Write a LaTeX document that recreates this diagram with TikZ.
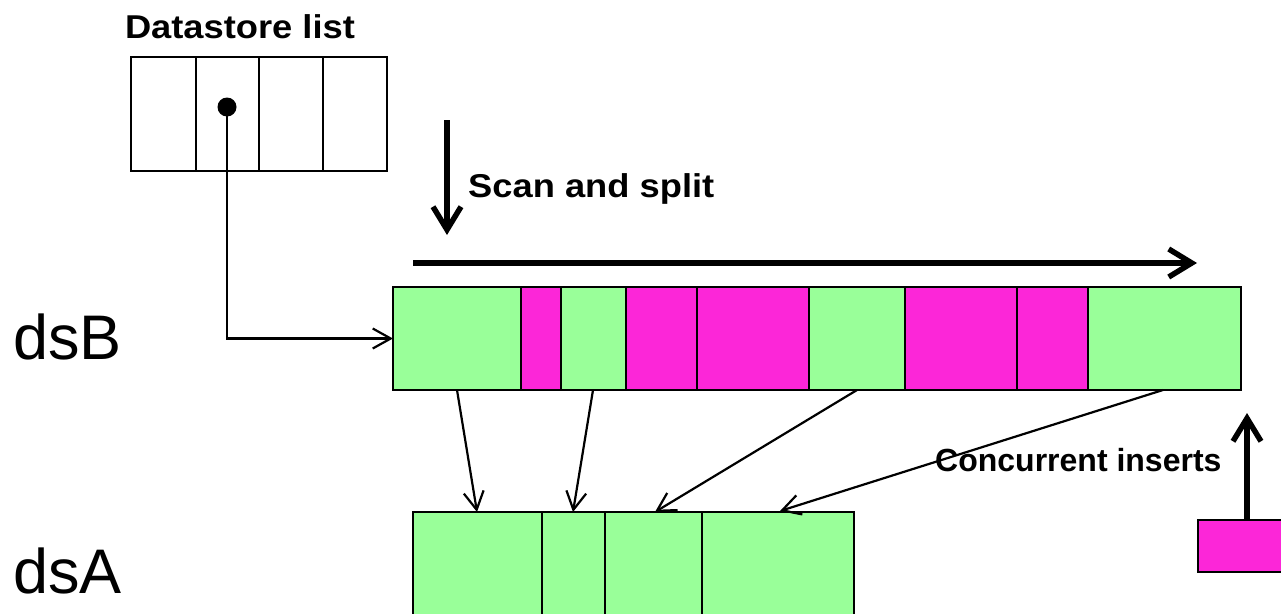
\documentclass[tikz,border=0pt]{standalone}
\usepackage{fontspec}
\setmainfont{Liberation Sans}
\usetikzlibrary{arrows.meta}
\definecolor{cgreen}{RGB}{153,255,153}
\definecolor{cmag}{RGB}{252,38,216}
\tikzset{
  cell/.style={draw=black, line width=2.2pt, inner sep=0pt, outer sep=0pt, anchor=north west},
  gcell/.style={cell, fill=cgreen},
  mcell/.style={cell, fill=cmag},
  wcell/.style={cell, fill=white},
  thinarrow/.style={line width=2.2pt, -{Straight Barb[length=18pt,width=20pt,line width=2.2pt]}},
  thickarrow/.style={line width=5.5pt, -{Straight Barb[length=23pt,width=28pt,line width=5.5pt]}},
  bigtext/.style={font=\fontsize{63}{70}\selectfont, inner sep=0pt, anchor=base west},
  boldtext/.style={font=\bfseries\fontsize{33}{38}\selectfont, inner sep=0pt},
}
\begin{document}
\begin{tikzpicture}[x=1pt,y=-1pt]
\useasboundingbox (0,0) rectangle (1281,613);
\clip (0,0) rectangle (1281,613);
% Datastore list
\node[boldtext, anchor=base] (dltitle) at (240,38) {\scalebox{1.1}[1]{Datastore list}};
\node[wcell, minimum width=65pt, minimum height=114pt] (l1) at (131,57) {};
\node[wcell, minimum width=63pt, minimum height=114pt] (l2) at (196,57) {};
\node[wcell, minimum width=64pt, minimum height=114pt] (l3) at (259,57) {};
\node[wcell, minimum width=64pt, minimum height=114pt] (l4) at (323,57) {};
\node[circle, fill=black, inner sep=0pt, minimum size=19pt] (dot) at (227,107) {};
% dsB
\node[bigtext] (dsB) at (13,359) {dsB};
\node[gcell, minimum width=128pt, minimum height=103pt] (b1) at (393,287) {};
\node[mcell, minimum width=40pt,  minimum height=103pt] (b2) at (521,287) {};
\node[gcell, minimum width=65pt,  minimum height=103pt] (b3) at (561,287) {};
\node[mcell, minimum width=71pt,  minimum height=103pt] (b4) at (626,287) {};
\node[mcell, minimum width=112pt, minimum height=103pt] (b5) at (697,287) {};
\node[gcell, minimum width=96pt,  minimum height=103pt] (b6) at (809,287) {};
\node[mcell, minimum width=112pt, minimum height=103pt] (b7) at (905,287) {};
\node[mcell, minimum width=71pt,  minimum height=103pt] (b8) at (1017,287) {};
\node[gcell, minimum width=153pt, minimum height=103pt] (b9) at (1088,287) {};
% dsA
\node[bigtext] (dsA) at (13,593) {dsA};
\node[gcell, minimum width=129pt, minimum height=130pt] (a1) at (413,512) {};
\node[gcell, minimum width=63pt,  minimum height=130pt] (a2) at (542,512) {};
\node[gcell, minimum width=97pt,  minimum height=130pt] (a3) at (605,512) {};
\node[gcell, minimum width=152pt, minimum height=130pt] (a4) at (702,512) {};
% new insert box
\node[mcell, minimum width=120pt, minimum height=52pt] (ins) at (1198,520) {};
% pointer
\draw[thinarrow] (dot.center) |- (b1.west);
% scan and split
\coordinate (sd0) at (447,120);
\coordinate (sd1) at (447,235);
\draw[thickarrow] (sd0) -- (sd1);
\node[boldtext, anchor=base west] (scan) at (468,197) {\scalebox{1.1}[1]{Scan and split}};
\coordinate (sh0) at (413,263);
\coordinate (sh1) at (1197,263);
\draw[thickarrow] (sh0) -- (sh1);
% moves
\coordinate (m1s) at (457,390); \coordinate (m1e) at (477,512);
\coordinate (m2s) at (593,390); \coordinate (m2e) at (573,512);
\coordinate (m3s) at (857,390); \coordinate (m3e) at (655,512);
\coordinate (m4s) at (1163,390); \coordinate (m4e) at (780,511);
\draw[thinarrow] (m1s) -- (m1e);
\draw[thinarrow] (m2s) -- (m2e);
\draw[thinarrow] (m3s) -- (m3e);
\draw[thinarrow] (m4s) -- (m4e);
% concurrent inserts
\node[boldtext, font=\bfseries\fontsize{32}{36}\selectfont, anchor=base west] (conc) at (935,471) {Concurrent inserts};
\coordinate (up1) at (1247,413);
\draw[thickarrow] (ins.north -| up1) -- (up1);
\end{tikzpicture}
\end{document}
